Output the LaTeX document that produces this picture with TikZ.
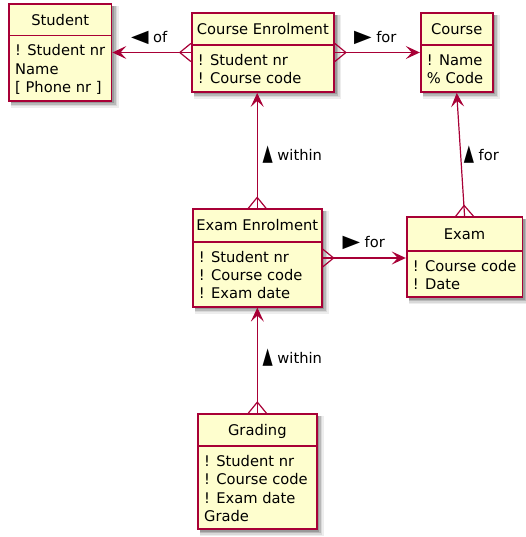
\documentclass[tikz,border=0pt]{standalone}
\usepackage{fontspec}
\setmainfont{DejaVu Sans}
\usetikzlibrary{arrows.meta,calc,fit}
\definecolor{entfill}{HTML}{FEFECE}
\definecolor{entline}{HTML}{A80036}
\tikzset{
  entbox/.style={draw=entline, fill=entfill, line width=1.8pt, inner sep=0pt},
  conn/.style={draw=entline, line width=1.2pt},
  tipend/.style={-{Stealth[length=14pt,width=13pt,inset=6pt]}},
  titletext/.style={font=\fontsize{14.7}{17}\selectfont, inner sep=0pt, anchor=base},
  fieldtext/.style={font=\fontsize{14.7}{17}\selectfont, inner sep=0pt, anchor=base west},
  reltext/.style={font=\fontsize{14.7}{17}\selectfont, inner sep=0pt, text height=11pt, text depth=0pt},
}
\newcommand\ltri{\scalebox{1.55}[1.2]{◀}}
\newcommand\rtri{\scalebox{1.55}[1.2]{▶}}
\newcommand\utri{\scalebox{0.9}[1.55]{▲}}
\newcommand\erentity[8]{%
  \fill[black!7] (#2+2,#3+2) rectangle (#4+7,#5+7);
  \fill[black!15] (#2+2,#3+2) rectangle (#4+5.5,#5+5.5);
  \fill[black!28] (#2+2,#3+2) rectangle (#4+4,#5+4);
  \fill[black!40] (#2+2,#3+2) rectangle (#4+2.5,#5+2.5);
  \coordinate (#1-nw) at (#2,#3);
  \coordinate (#1-se) at (#4,#5);
  \node[entbox, fit=(#1-nw)(#1-se)] (#1) {};
  \draw[entline, line width=1.6pt] (#2,#6) -- (#4,#6);
  \node[titletext] (#1-title) at ({(#2+#4)/2},{(#3+#6)/2+5.4}) {#7};
  \foreach \f [count=\i] in {#8} \node[fieldtext] (#1-f\i) at (#2+6,{#6+20.5+(\i-1)*18.3}) {\f};
}
\begin{document}
\begin{tikzpicture}[x=1pt,y=-1pt]
\useasboundingbox (0,0) rectangle (526,537);

\erentity{student}{9}{4}{111.5}{101}{35.5}{Student}{! Student nr, Name, [ Phone nr ]}
\erentity{ce}{191.7}{13}{334}{92}{45}{Course Enrolment}{! Student nr, ! Course code}
\erentity{course}{420.7}{13}{492.7}{92}{45}{Course}{! Name, \% Code}
\erentity{ee}{192.7}{209.3}{321.7}{306.7}{241.7}{Exam Enrolment}{! Student nr, ! Course code, ! Exam date}
\erentity{exam}{406.7}{217.3}{522.5}{297}{250.7}{Exam}{! Course code, ! Date}
\erentity{grading}{198}{414}{316.7}{529}{446}{Grading}{! Student nr, ! Course code, ! Exam date, Grade}

% Course Enrolment -> Student
\draw[conn, tipend] (ce.west) -- (student.east);
\draw[conn] ($(ce.west)+(0,-9)$) -- ($(ce.west)+(-11,0)$) -- ($(ce.west)+(0,9)$);
\node[reltext] (lof) at (149.2,36.7) {\ltri\ of};

% Course Enrolment -> Course
\draw[conn, tipend] (ce.east) -- (course.west);
\draw[conn] ($(ce.east)+(0,-9)$) -- ($(ce.east)+(11,0)$) -- ($(ce.east)+(0,9)$);
\node[reltext] (lfor1) at (375.3,37) {\rtri\ for};

% Exam Enrolment -> Course Enrolment
\draw[conn, tipend] (ee.north) -- (ee.north |- ce.south);
\draw[conn] ($(ee.north)+(-9,0)$) -- ($(ee.north)+(0,-11)$) -- ($(ee.north)+(9,0)$);
\node[reltext] (lwithin1) at (292.3,155) {\utri\ within};

% Exam -> Course
\draw[conn, tipend] (exam.north) -- (course.south);
\draw[conn] ($(exam.north)+(-9,0)$) -- ($(exam.north)+(-0.5,-11)$) -- ($(exam.north)+(9,0)$);
\node[reltext] (lfor2) at (481.3,155) {\utri\ for};

% Exam Enrolment -> Exam
\draw[conn, tipend] (ee.east) -- (ee.east -| exam.west);
\draw[conn] ($(ee.east)+(0,-9)$) -- ($(ee.east)+(11,0)$) -- ($(ee.east)+(0,9)$);
\node[reltext] (lfor3) at (363.7,242) {\rtri\ for};

% Grading -> Exam Enrolment
\draw[conn, tipend] (grading.north) -- (grading.north |- ee.south);
\draw[conn] ($(grading.north)+(-9,0)$) -- ($(grading.north)+(0,-11)$) -- ($(grading.north)+(9,0)$);
\node[reltext] (lwithin2) at (292.3,358) {\utri\ within};
\end{tikzpicture}
\end{document}
